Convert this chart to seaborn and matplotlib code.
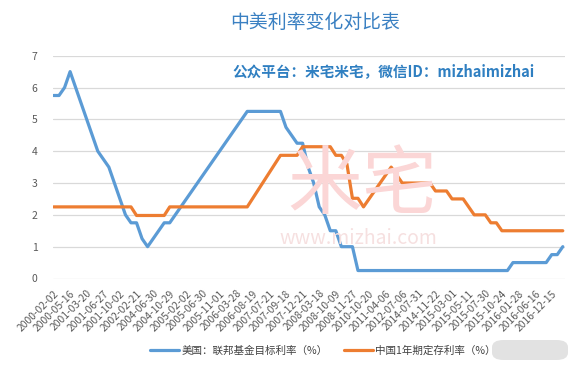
import matplotlib
matplotlib.use("Agg")
import matplotlib.pyplot as plt
from matplotlib.patches import FancyBboxPatch
from matplotlib.lines import Line2D
import seaborn as sns
import pandas as pd

# ---- data ----
tick_labels = [
    "2000-02-02", "2000-05-16", "2001-03-20", "2001-06-27", "2001-10-02",
    "2002-02-21", "2004-06-30", "2004-10-29", "2005-02-02", "2005-06-30",
    "2005-11-01", "2006-03-28", "2006-08-19", "2007-07-21", "2007-09-18",
    "2007-12-21", "2008-03-18", "2008-10-09", "2008-11-27", "2010-10-20",
    "2011-04-06", "2012-07-06", "2014-07-31", "2014-11-22", "2015-03-01",
    "2015-05-11", "2015-07-30", "2015-10-24", "2016-01-28", "2016-06-16",
    "2016-12-15",
]

us_rate = [
    5.75, 5.75, 6.0, 6.5, 6.0, 5.5, 5.0, 4.5, 4.0, 3.75,
    3.5, 3.0, 2.5, 2.0, 1.75, 1.75, 1.25, 1.0, 1.25, 1.5,
    1.75, 1.75, 2.0, 2.25, 2.5, 2.75, 3.0, 3.25, 3.5, 3.75,
    4.0, 4.25, 4.5, 4.75, 5.0, 5.25, 5.25, 5.25, 5.25, 5.25,
    5.25, 5.25, 4.75, 4.5, 4.25, 4.25, 3.5, 3.0, 2.25, 2.0,
    1.5, 1.5, 1.0, 1.0, 1.0, 0.25, 0.25, 0.25, 0.25, 0.25,
    0.25, 0.25, 0.25, 0.25, 0.25, 0.25, 0.25, 0.25, 0.25, 0.25,
    0.25, 0.25, 0.25, 0.25, 0.25, 0.25, 0.25, 0.25, 0.25, 0.25,
    0.25, 0.25, 0.25, 0.5, 0.5, 0.5, 0.5, 0.5, 0.5, 0.5,
    0.75, 0.75, 1.0,
]

cn_rate = [
    2.25, 2.25, 2.25, 2.25, 2.25, 2.25, 2.25, 2.25, 2.25, 2.25,
    2.25, 2.25, 2.25, 2.25, 2.25, 1.98, 1.98, 1.98, 1.98, 1.98,
    1.98, 2.25, 2.25, 2.25, 2.25, 2.25, 2.25, 2.25, 2.25, 2.25,
    2.25, 2.25, 2.25, 2.25, 2.25, 2.25, 2.52, 2.79, 3.06, 3.33,
    3.60, 3.87, 3.87, 3.87, 3.87, 4.14, 4.14, 4.14, 4.14, 4.14,
    4.14, 3.87, 3.87, 3.60, 2.52, 2.52, 2.25, 2.50, 2.75, 3.00,
    3.25, 3.50, 3.25, 3.00, 3.00, 3.00, 3.00, 3.00, 3.00, 2.75,
    2.75, 2.75, 2.50, 2.50, 2.50, 2.25, 2.00, 2.00, 2.00, 1.75,
    1.75, 1.50, 1.50, 1.50, 1.50, 1.50, 1.50, 1.50, 1.50, 1.50,
    1.50, 1.50, 1.50,
]

series_names = ["美国：联邦基金目标利率（%）", "中国1年期定存利率（%）"]
title_text = "中美利率变化对比表"
subtitle_text = "公众平台：米宅米宅，微信ID：mizhaimizhai"

# ---- build long-form table ----
n = len(us_rate)
df = pd.DataFrame({
    "idx": list(range(n)) * 2,
    "rate": us_rate + cn_rate,
    "series": [series_names[0]] * n + [series_names[1]] * n,
})

sns.set_style("white")
plt.rcParams["font.family"] = ["Noto Sans CJK SC", "DejaVu Sans"]

W, H = 573, 365
fig = plt.figure(figsize=(W / 100, H / 100), dpi=100)
fig.patch.set_facecolor("white")

ax = fig.add_axes([53 / W, 1 - 278.5 / H, (565 - 53) / W, (278.5 - 55.7) / H])

# watermark (behind everything)
fig.text(362 / W, 1 - 186 / H, "米宅", fontsize=54, color="#fbd6d6",
         ha="center", va="center", zorder=0)
fig.text(358 / W, 1 - 238 / H, "www.mizhai.com", fontsize=14, color="#f6e0e0",
         ha="center", va="center", zorder=0)

palette = {series_names[0]: "#5B9BD5", series_names[1]: "#ED7D31"}
sns.lineplot(data=df, x="idx", y="rate", hue="series", palette=palette,
             linewidth=2.3, ax=ax, legend=False, zorder=3)

ax.set_xlim(-0.09, 92.4)
ax.set_ylim(0, 7)
ax.set_yticks(range(0, 8))
ax.set_yticklabels([str(v) for v in range(0, 8)])
ax.set_xticks(list(range(0, n, 3)))
ax.set_xticklabels(tick_labels, rotation=45, ha="right", rotation_mode="anchor")
ax.tick_params(axis="x", length=0, pad=7, labelsize=7.4, colors="#595959")
ax.tick_params(axis="y", length=0, pad=11, labelsize=7.5, colors="#595959")
ax.grid(axis="y", color="#d9d9d9", linewidth=0.9)
ax.grid(axis="x", visible=False)
ax.set_xlabel("")
ax.set_ylabel("")
for s in ax.spines.values():
    s.set_visible(False)
ax.set_facecolor("none")

# title and subtitle
fig.text(315 / W, 1 - 22 / H, title_text, fontsize=13.6, color="#3a80c2",
         ha="center", va="center")
fig.text(384 / W, 1 - 71 / H, subtitle_text, fontsize=10.5, color="#2f7fc1",
         ha="center", va="center", fontweight="bold")

# legend
handles = [Line2D([0], [0], color=palette[s], lw=2.3) for s in series_names]
leg = fig.legend(handles, series_names, loc="center left", ncol=2,
                 bbox_to_anchor=(150 / W, 1 - 351 / H), frameon=False,
                 fontsize=7.6, handlelength=2.7, handletextpad=0.25,
                 columnspacing=1.6, borderpad=0, borderaxespad=0)
for t in leg.get_texts():
    t.set_color("#404040")

# grey overlay box at bottom-right
box = FancyBboxPatch((492 / W, 1 - 360 / H), 76 / W, 20 / H,
                     boxstyle="round,pad=0,rounding_size=0.02",
                     transform=fig.transFigure, facecolor="#e2e2e2",
                     edgecolor="none", zorder=10)
fig.patches.append(box)

fig.savefig("out.png", dpi=100)
